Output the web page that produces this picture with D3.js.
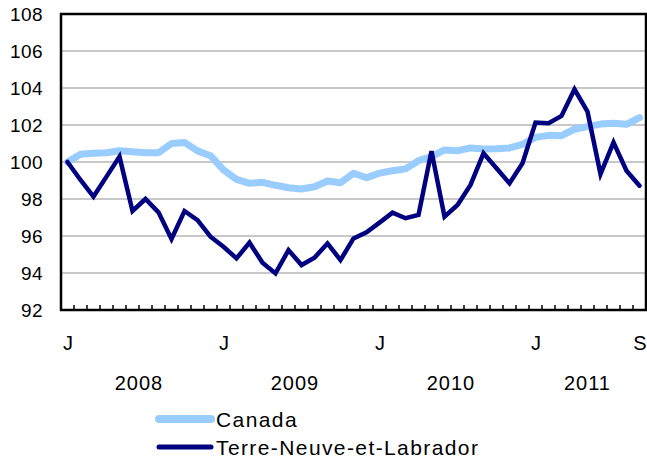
<!DOCTYPE html>
<html><head><meta charset="utf-8">
<script src="https://cdn.jsdelivr.net/npm/d3@7"></script>
<style>body{margin:0;background:#fff}svg{display:block}text{font-family:"Liberation Sans",Arial,sans-serif;fill:#000}</style>
</head><body><svg id="c" width="647" height="462"></svg>
<script>
const months = d3.timeMonth.range(new Date(2008,0,1), new Date(2011,9,1)); // Jan 2008 .. Sep 2011
const canada = [100,100.42,100.47,100.5,100.61,100.56,100.5,100.5,101.0,101.06,100.6,100.34,
  99.57,99.06,98.85,98.9,98.74,98.61,98.54,98.66,98.97,98.88,99.39,99.15,
  99.4,99.53,99.63,100.07,100.29,100.65,100.61,100.76,100.7,100.71,100.76,100.95,
  101.33,101.44,101.42,101.77,101.91,102.05,102.1,102.04,102.4];
const terre = [100,99.03,98.13,99.21,100.29,97.35,98.0,97.28,95.84,97.35,96.86,95.96,
  95.42,94.79,95.64,94.56,93.98,95.24,94.43,94.83,95.6,94.7,95.87,96.2,
  96.72,97.26,96.96,97.14,100.59,97.04,97.68,98.76,100.47,99.66,98.85,99.93,
  102.13,102.1,102.49,103.93,102.72,99.35,101.06,99.53,98.72];
const yTicks = [92,94,96,98,100,102,104,106,108];
const monthLabels = ["J","F","M","A","M","J","J","A","S","O","N","D"];
const shownMonthIdx = [0,12,24,36,44];
const years = [2008,2009,2010,2011];
const seriesNames = ["Canada","Terre-Neuve-et-Labrador"];
const colors = ["#99ccff","#000080"];

const L=61,R=646,T=14,B=310;
const svg=d3.select("#c");
const idx=d3.range(months.length);
const x=d3.scalePoint().domain(idx).range([L,R]).padding(0.5);
const xb=d3.scaleBand().domain(idx).range([L,R]);
const y=d3.scaleLinear().domain([92,108]).range([B,T]);

// gridlines
svg.append("g").selectAll("line").data(yTicks.filter(v=>v>92&&v<108)).join("line")
  .attr("x1",L).attr("x2",R).attr("y1",d=>y(d)).attr("y2",d=>y(d))
  .attr("stroke","#c8c8c8").attr("stroke-width",2);

// minor ticks at month boundaries
svg.append("g").selectAll("line").data(idx.slice(1)).join("line")
  .attr("x1",d=>xb(d)).attr("x2",d=>xb(d)).attr("y1",B).attr("y2",B-5)
  .attr("stroke","#000").attr("stroke-width",1.5);

// lines
const line=d3.line().x((d,i)=>x(i)).y(d=>y(d));
svg.append("path").datum(canada).attr("d",line).attr("fill","none")
  .attr("stroke",colors[0]).attr("stroke-width",7).attr("stroke-linejoin","round").attr("stroke-linecap","round");
svg.append("path").datum(terre).attr("d",line).attr("fill","none")
  .attr("stroke",colors[1]).attr("stroke-width",4.5).attr("stroke-linejoin","miter").attr("stroke-linecap","round");

// frame
svg.append("rect").attr("x",L).attr("y",T).attr("width",R-L).attr("height",B-T)
  .attr("fill","none").attr("stroke","#000").attr("stroke-width",2.5);

// y axis labels
const ya=svg.append("g").attr("transform",`translate(${L},0)`)
  .call(d3.axisLeft(y).tickValues(yTicks).tickSize(0).tickPadding(18).tickFormat(d3.format("d")));
ya.select(".domain").remove();
ya.selectAll("text").style("font-size","19px").style("letter-spacing","0.4px").attr("font-family",null);

// x axis month labels
const xa=svg.append("g").attr("transform",`translate(0,${B})`)
  .call(d3.axisBottom(x).tickValues(shownMonthIdx).tickSize(0).tickPadding(26)
    .tickFormat(i=>monthLabels[months[i].getMonth()]));
xa.select(".domain").remove();
xa.selectAll("text").style("font-size","20px").attr("font-family",null);

// year labels
svg.append("g").selectAll("text").data(years).join("text")
  .attr("x",yr=>d3.mean(idx.filter(i=>months[i].getFullYear()===yr),i=>x(i)))
  .attr("y",390).attr("text-anchor","middle").style("font-size","20px").style("letter-spacing","1px").text(d=>d);

// legend
const lg=svg.append("g");
seriesNames.forEach((n,k)=>{
  const yy=419+k*28;
  lg.append("line").attr("x1",159).attr("x2",211).attr("y1",yy).attr("y2",yy)
    .attr("stroke",colors[k]).attr("stroke-width",k===0?8:5).attr("stroke-linecap","round");
  lg.append("text").attr("x",216).attr("y",yy).attr("dy","0.36em")
    .style("font-size","21px").style("letter-spacing","1.4px").text(n);
});
</script></body></html>
